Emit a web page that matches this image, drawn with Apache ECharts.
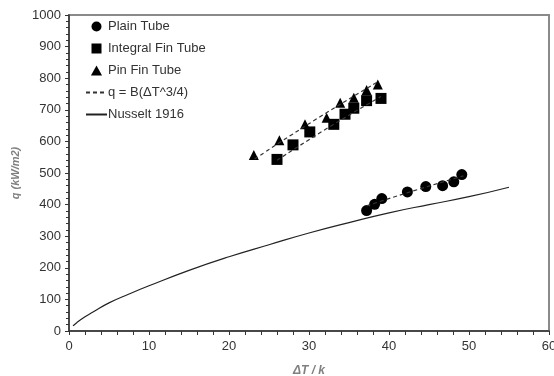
<!DOCTYPE html>
<html>
<head>
<meta charset="utf-8">
<script src="https://cdn.jsdelivr.net/npm/echarts@6/dist/echarts.min.js"></script>
<style>
  html, body { margin: 0; padding: 0; background: #fff; }
  #chart { width: 554px; height: 376px; }
</style>
</head>
<body>
<div id="chart"></div>
<script>
// measured points, [dT, q]
const plainTube = [[37.2, 381], [38.2, 401], [39.1, 419], [42.3, 440], [44.6, 457], [46.7, 460], [48.1, 472], [49.1, 495]]
const integralFin = [[26.0, 543], [28.0, 589], [30.1, 630], [33.1, 654], [34.5, 686], [35.6, 705], [37.2, 729], [39.0, 736]]
const pinFin = [[23.1, 557], [26.3, 604], [29.5, 654], [32.2, 675], [33.9, 722], [35.6, 738], [37.2, 763], [38.6, 780]]

// dashed fits q = B(dT^3/4)
const fitPlain = [[37.2, 396], [43, 443], [49.3, 491]]
const fitIntegral = [[26.0, 540], [32.5, 645], [39.0, 742]]
const fitPin = [[23.2, 544], [31, 672], [38.7, 790]]

// Nusselt 1916 curve
const nusselt = [[0.5, 16], [1, 27], [2, 45], [3, 60], [5, 89], [7.5, 117], [10, 143], [15, 192],
  [20, 235], [25, 273], [30, 310], [35, 343], [40, 374], [45, 400], [50, 425], [55, 455]]

const chart = echarts.init(document.getElementById('chart'))

const fitStyle = { color: '#333', width: 1.2, type: [4, 3] }
const squareIcon = 'path://M0,0L10,0L10,10L0,10Z'
const triangleIcon = 'path://M5,0L10,9L0,9Z'
// hide the dot that line series put in their legend icon
const noDot = { opacity: 0 }

const option = {
  animation: false,
  textStyle: { fontFamily: 'Arial, "Liberation Sans", sans-serif' },
  grid: {
    left: 69, right: 5, top: 15, bottom: 45,
    outerBoundsMode: 'none',
    show: true, borderColor: '#8a8a8a', borderWidth: 2,
  },
  legend: {
    orient: 'vertical',
    left: 80,
    top: 15,
    itemWidth: 21,
    itemHeight: 10,
    itemGap: 9,
    symbolKeepAspect: true,
    textStyle: { fontSize: 13, color: '#333', padding: [0, 0, 0, -4] },
    data: [
      { name: 'Plain Tube', icon: 'circle' },
      { name: 'Integral Fin Tube', icon: squareIcon },
      { name: 'Pin Fin Tube', icon: triangleIcon },
      { name: 'q = B(ΔT^3/4)', itemStyle: noDot },
      { name: 'Nusselt 1916', itemStyle: noDot },
    ],
  },
  xAxis: {
    type: 'value',
    min: 0, max: 60, interval: 10,
    name: 'ΔT / k',
    nameLocation: 'middle',
    nameGap: 34,
    nameTextStyle: { fontSize: 12, fontWeight: 'bold', fontStyle: 'italic', color: '#808080' },
    axisLine: { lineStyle: { color: '#333', width: 1.5 } },
    axisTick: { length: 4, lineStyle: { color: '#333' } },
    minorTick: { show: true, splitNumber: 5, length: 4, lineStyle: { color: '#333' } },
    axisLabel: { fontSize: 13, color: '#333', margin: 9 },
    splitLine: { show: false },
  },
  yAxis: {
    type: 'value',
    min: 0, max: 1000, interval: 100,
    name: 'q (kW/m2)',
    nameLocation: 'middle',
    nameGap: 44,
    nameTextStyle: { fontSize: 11, fontWeight: 'bold', fontStyle: 'italic', color: '#808080' },
    axisLine: { lineStyle: { color: '#333', width: 1.5 } },
    axisTick: { length: 4, lineStyle: { color: '#333' } },
    minorTick: { show: true, splitNumber: 5, length: 3, lineStyle: { color: '#333' } },
    axisLabel: { fontSize: 13, color: '#333', margin: 8, formatter: v => String(v) },
    splitLine: { show: false },
  },
  series: [
    {
      name: 'Nusselt 1916', type: 'line', data: nusselt, smooth: true,
      symbol: 'none', lineStyle: { color: '#222', width: 1.2 }, itemStyle: { color: '#222' },
    },
    {
      name: 'q = B(ΔT^3/4)', type: 'line', data: fitPlain, smooth: true,
      symbol: 'none', lineStyle: fitStyle, itemStyle: { color: '#333' },
    },
    {
      name: 'q = B(ΔT^3/4)', type: 'line', data: fitIntegral, smooth: true,
      symbol: 'none', lineStyle: fitStyle, itemStyle: { color: '#333' },
    },
    {
      name: 'q = B(ΔT^3/4)', type: 'line', data: fitPin, smooth: true,
      symbol: 'none', lineStyle: fitStyle, itemStyle: { color: '#333' },
    },
    {
      name: 'Plain Tube', type: 'scatter', data: plainTube,
      symbol: 'circle', symbolSize: 11, itemStyle: { color: '#000', opacity: 1 },
    },
    {
      name: 'Integral Fin Tube', type: 'scatter', data: integralFin,
      symbol: 'rect', symbolSize: 11, itemStyle: { color: '#000', opacity: 1 },
    },
    {
      name: 'Pin Fin Tube', type: 'scatter', data: pinFin,
      symbol: 'triangle', symbolSize: 10, itemStyle: { color: '#000', opacity: 1 },
    },
  ],
}

chart.setOption(option)
</script>
</body>
</html>
